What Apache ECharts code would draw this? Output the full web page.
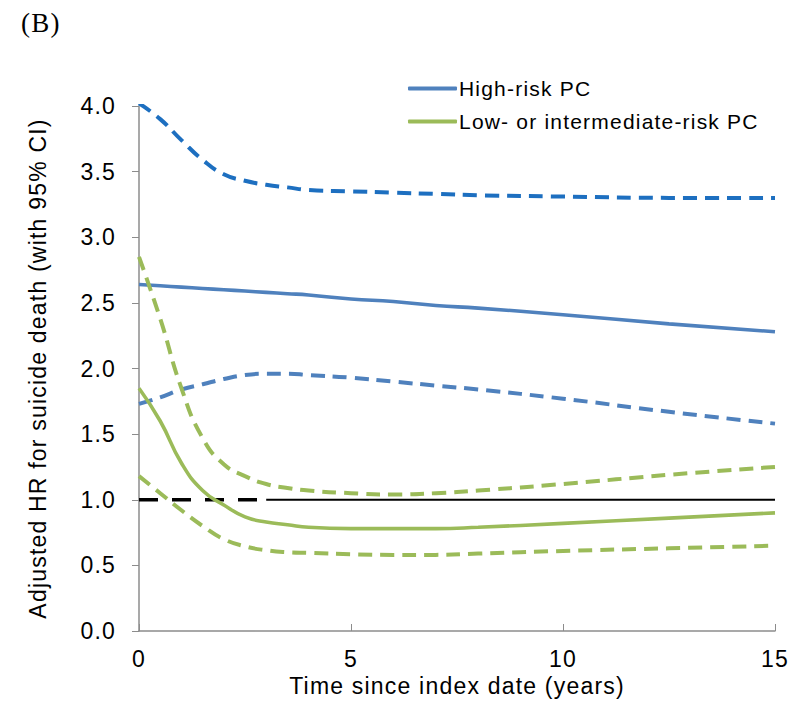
<!DOCTYPE html>
<html>
<head>
<meta charset="utf-8">
<script src="https://cdn.jsdelivr.net/npm/echarts@6/dist/echarts.min.js"></script>
<style>
  html, body { margin: 0; padding: 0; background: #fff; }
  #chart { width: 806px; height: 718px; }
  /* the reference type is set a little wider than Arial */
  #chart svg text { letter-spacing: 1.2px; }
</style>
</head>
<body>
<div id="chart"></div>
<script>
// time grid (years since index date)
var years = [0, 0.5, 1, 1.5, 2, 2.5, 3, 3.5, 4, 5, 6, 7, 8, 10, 12.5, 15]

// high-risk PC: HR and 95% CI
var highHR = [2.64, 2.63, 2.62, 2.61, 2.60, 2.59, 2.58, 2.57, 2.56, 2.53, 2.51, 2.48, 2.46, 2.41, 2.34, 2.28]
var highUpper = [4.02, 3.90, 3.74, 3.59, 3.48, 3.43, 3.40, 3.38, 3.36, 3.35, 3.34, 3.33, 3.32, 3.31, 3.30, 3.30]
var highLower = [1.73, 1.78, 1.84, 1.88, 1.92, 1.95, 1.96, 1.96, 1.95, 1.93, 1.90, 1.87, 1.84, 1.77, 1.67, 1.58]

// low- or intermediate-risk PC: HR and 95% CI
var lowHR = [1.85, 1.60, 1.28, 1.07, 0.96, 0.87, 0.83, 0.81, 0.79, 0.78, 0.78, 0.78, 0.79, 0.82, 0.86, 0.90]
var lowUpper = [2.85, 2.38, 1.85, 1.47, 1.27, 1.18, 1.12, 1.09, 1.07, 1.05, 1.04, 1.05, 1.07, 1.12, 1.19, 1.25]
var lowLower = [1.18, 1.05, 0.92, 0.80, 0.70, 0.645, 0.615, 0.60, 0.595, 0.585, 0.58, 0.58, 0.59, 0.61, 0.63, 0.65]

// reference line HR = 1 (dashed up to 3 years, solid after)
var refDashed = [[0, 1], [3, 1]]
var refSolid = [[3, 1], [15, 1]]

var yTicks = ['0.0', '0.5', '1.0', '1.5', '2.0', '2.5', '3.0', '3.5', '4.0']

function pairs(vals) {
  return years.map(function(t, i) { return [t, vals[i]] })
}

var font = 'Liberation Sans, Arial, sans-serif'
var axisGrey = '#8c8c8c'

var myChart = echarts.init(document.getElementById('chart'), null, { renderer: 'svg' })

function line(name, vals, color, dashed) {
  return {
    name: name,
    type: 'line',
    data: Array.isArray(vals[0]) ? vals : pairs(vals),
    smooth: 0.5,
    symbol: 'none',
    silent: true,
    lineStyle: {
      color: color,
      width: dashed ? 4 : 3.6,
      type: dashed ? [14, 8] : 'solid'
    },
    itemStyle: { color: color }
  }
}

var option = {
  animation: false,
  title: {
    text: '(B)',
    left: 16,
    top: 4,
    textStyle: { fontFamily: 'Liberation Serif, Times New Roman, serif', fontSize: 27, fontWeight: 'normal', color: '#000' }
  },
  legend: {
    data: ['High-risk PC', 'Low- or intermediate-risk PC'],
    orient: 'vertical',
    left: 403,
    top: 73,
    icon: 'roundRect',
    itemWidth: 49,
    itemHeight: 4,
    itemGap: 12,
    textStyle: { fontFamily: font, fontSize: 21, color: '#000', padding: [0, 0, 0, -3] }
  },
  grid: { left: 139, right: 31, top: 106, bottom: 87 },
  xAxis: {
    type: 'value',
    min: 0,
    max: 15,
    interval: 5,
    name: 'Time since index date (years)',
    nameLocation: 'middle',
    nameGap: 43,
    nameTextStyle: { fontFamily: font, fontSize: 23, color: '#000' },
    axisLine: { lineStyle: { color: axisGrey, width: 1.5 } },
    axisTick: { inside: true, length: 7, lineStyle: { color: axisGrey } },
    axisLabel: { fontFamily: font, fontSize: 23, color: '#000', margin: 16 },
    splitLine: { show: false }
  },
  yAxis: {
    type: 'value',
    min: 0,
    max: 4,
    interval: 0.5,
    name: 'Adjusted HR for suicide death (with 95% CI)',
    nameLocation: 'middle',
    nameGap: 90,
    nameTextStyle: { fontFamily: font, fontSize: 23, color: '#000' },
    axisLine: { show: true, lineStyle: { color: axisGrey, width: 1.5 } },
    axisTick: { show: true, length: 7, lineStyle: { color: axisGrey } },
    axisLabel: {
      fontFamily: font, fontSize: 23, color: '#000', margin: 23,
      formatter: function(v) { return yTicks[Math.round(v / 0.5)] }
    },
    splitLine: { show: false }
  },
  series: [
    line('ref dashed', refDashed, '#000', false),
    line('ref solid', refSolid, '#000', false),
    line('High upper', highUpper, '#1d6fc0', true),
    line('High lower', highLower, '#4f81bd', true),
    line('High-risk PC', highHR, '#4f81bd', false),
    line('Low upper', lowUpper, '#9bbb59', true),
    line('Low lower', lowLower, '#9bbb59', true),
    line('Low- or intermediate-risk PC', lowHR, '#9bbb59', false)
  ]
}
// reference line styles
option.series[0].lineStyle = { color: '#000', width: 3.5, type: [19, 14] }
option.series[1].lineStyle = { color: '#000', width: 2 }
option.series[0].smooth = false
option.series[1].smooth = false

myChart.setOption(option)
</script>
</body>
</html>
